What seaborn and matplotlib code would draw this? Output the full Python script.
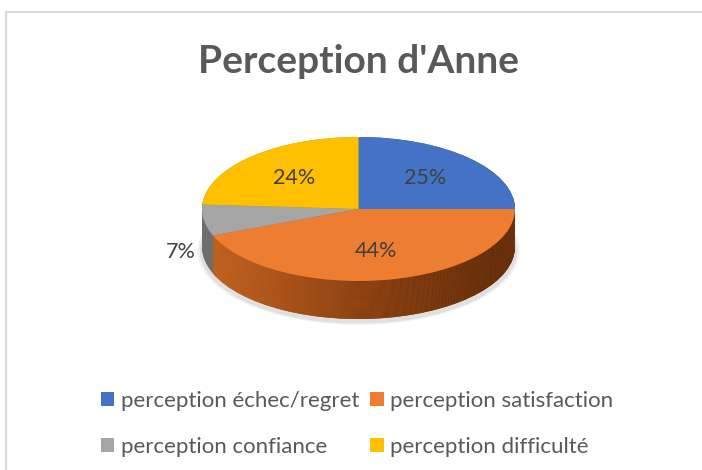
import numpy as np
import matplotlib.pyplot as plt
import seaborn as sns
from matplotlib.colors import LinearSegmentedColormap

labels = ["perception échec/regret", "perception satisfaction",
          "perception confiance", "perception difficulté"]
values = [25, 44, 7, 24]
colors = ["#4472C4", "#ED7D31", "#A5A5A5", "#FFC000"]
side_colors = ["#2f528f", "#9c4a14", "#6e6e6e", "#b38600"]
title = "Perception d'Anne"

sns.set_theme(style="white")
plt.rcParams["font.family"] = ["Lato", "DejaVu Sans"]

W, H = 702, 470
fig = plt.figure(figsize=(W / 100, H / 100), dpi=100)
ax = fig.add_axes([0, 0, 1, 1])

# geometry of the tilted pie, in pixels
cx, cy, rx, ry = 358.5, 209, 156.5, 72
depth = 38 / ry

# soft shadow under the pie
for s, a in [(1.03, 0.05), (1.015, 0.07)]:
    ax.pie(values, colors=["#000000"] * len(values), startangle=90, counterclock=False,
           center=(0, -depth - 0.05), radius=s,
           wedgeprops=dict(linewidth=0, alpha=a, zorder=0))

# side of the 3d pie: stacked layers, orange gets a left->right gradient
side_cmap = LinearSegmentedColormap.from_list("side", ["#d06c26", "#8c4112", "#552709"])
grad = np.linspace(0, 1, 256).reshape(1, -1)
n_layers = 40
for k, off in enumerate(np.linspace(-depth, 0, n_layers)):
    w, _ = ax.pie(values, colors=side_colors, startangle=90, counterclock=False,
                  center=(0, off), radius=1,
                  wedgeprops=dict(linewidth=0, zorder=2 * k + 1))
    im = ax.imshow(grad, cmap=side_cmap, extent=(-1, 1, off - 1, off + 1),
                   aspect="auto", zorder=2 * k + 2)
    im.set_clip_path(w[1])

# top face
wedges, texts, autotexts = ax.pie(
    values, colors=colors, startangle=90, counterclock=False,
    autopct="%1.0f%%", pctdistance=0.6,
    wedgeprops=dict(linewidth=0, zorder=200),
    textprops=dict(color="#404040", fontsize=15.5, zorder=201))

# small slices get their label outside
for wd, t, v in zip(wedges, autotexts, values):
    if v < 10:
        mid = np.deg2rad((wd.theta1 + wd.theta2) / 2)
        t.set_position((1.15 * np.cos(mid), 1.15 * np.sin(mid) - 0.8 * depth))

ax.set_aspect("auto")
ax.set_xlim(-cx / rx, (W - cx) / rx)
ax.set_ylim(-(H - cy) / ry, cy / ry)
ax.axis("off")

fig.text(358.5 / W, 1 - 73 / H, title, ha="center", va="baseline",
         fontsize=28, fontweight="bold", color="#595959")

order = [0, 2, 1, 3]
fig.legend([wedges[i] for i in order], [labels[i] for i in order],
           ncol=2, loc="upper left", bbox_to_anchor=(101 / W, 1 - 391 / H),
           frameon=False, fontsize=16, labelcolor="#595959",
           handlelength=0.6, handleheight=0.6, handletextpad=0.3,
           columnspacing=0.5, labelspacing=1.15, borderpad=0, borderaxespad=0)

# chart area border
fig.patches.append(plt.Rectangle((6 / W, -0.1), 1.0, 1.1 - 12 / H, fill=False,
                                 edgecolor="#d9d9d9", linewidth=1.5,
                                 transform=fig.transFigure, figure=fig))

fig.savefig("out.png", dpi=100)
